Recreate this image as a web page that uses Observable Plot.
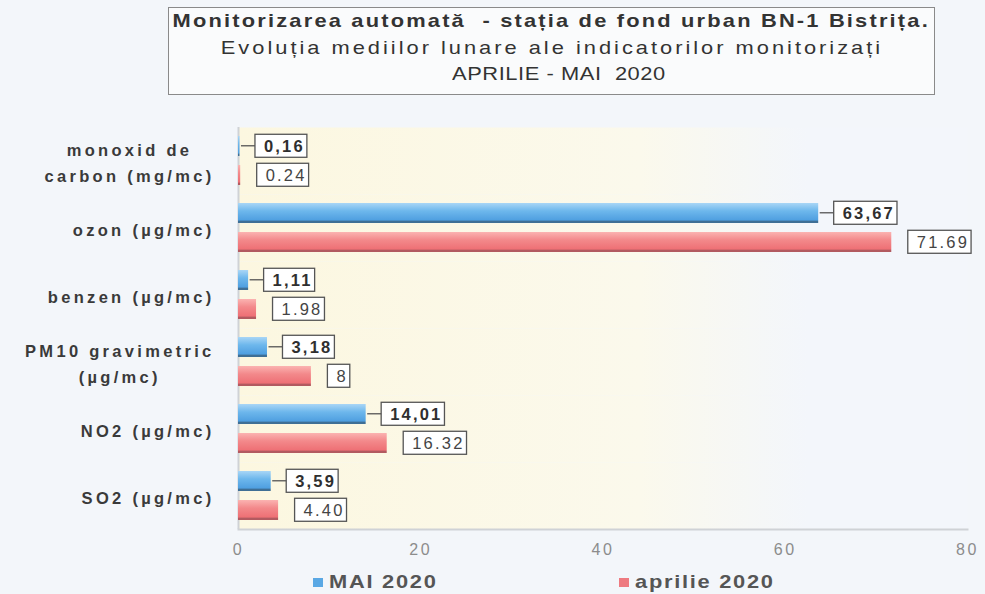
<!DOCTYPE html>
<html>
<head>
<meta charset="utf-8">
<script src="https://cdn.jsdelivr.net/npm/d3@7"></script>
<script src="https://cdn.jsdelivr.net/npm/@observablehq/plot@0.6"></script>
<style>
  body { margin: 0; background: #f3f6fa; font-family: "Liberation Sans", Arial, sans-serif; }
  #wrap { position: relative; width: 985px; height: 594px; overflow: hidden; background: #f3f6fa; }
  #chart { position: absolute; left: 0; top: 0; }
  #title { position: absolute; left: 168px; top: 7px; width: 767px; height: 88px; box-sizing: border-box;
           border: 1px solid #8a8a8a; background: #fafbfc; text-align: center; color: #333;
           font-size: 19px; line-height: 26.5px; padding-top: 0px; }
  #title .ln { display: block; white-space: nowrap; }
  #title .ln span { display: inline-block; transform: scaleX(1.15); transform-origin: center; }
  #title .l1 { font-weight: bold; letter-spacing: 1.9px; }
  #title .l2 { letter-spacing: 2.6px; }
  #title .l3 { letter-spacing: 0.5px; padding-left: 14px; }
  #legend { position: absolute; left: 0; top: 570px; width: 985px; height: 24px; font-weight: bold;
            font-size: 19px; color: #555; letter-spacing: 1.5px; }
  #legend .item { position: absolute; top: 0; line-height: 24px; white-space: nowrap; }
  #legend .sw { display: inline-block; width: 10px; height: 9px; margin-right: 6px; vertical-align: 1px; }
  #legend .tx { display: inline-block; transform: scaleX(1.15); transform-origin: left center; }
</style>
</head>
<body>
<div id="wrap">
  <div id="chart"></div>
  <div id="title">
    <div class="ln l1"><span>Monitorizarea automată&nbsp; - stația de fond urban BN-1 Bistrița.</span></div>
    <div class="ln l2"><span>Evoluția mediilor lunare ale indicatorilor monitorizați</span></div>
    <div class="ln l3"><span>APRILIE - MAI&nbsp; 2020</span></div>
  </div>
  <div id="legend"></div>
</div>
<script>
const categories = ["monoxid de\ncarbon (mg/mc)", "ozon (µg/mc)", "benzen (µg/mc)", "PM10 gravimetric\n(µg/mc)", "NO2 (µg/mc)", "SO2 (µg/mc)"];
const series = ["MAI 2020", "aprilie 2020"];
const maiValues = [0.16, 63.67, 1.11, 3.18, 14.01, 3.59];
const aprilieValues = [0.24, 71.69, 1.98, 8, 16.32, 4.40];
const maiLabels = ["0,16", "63,67", "1,11", "3,18", "14,01", "3,59"];
const aprilieLabels = ["0.24", "71.69", "1.98", "8", "16.32", "4.40"];
const xTicks = [0, 20, 40, 60, 80];

const mai = categories.map((c, i) => ({cat: c, series: series[0], value: maiValues[i], label: maiLabels[i]}));
const apr = categories.map((c, i) => ({cat: c, series: series[1], value: aprilieValues[i], label: aprilieLabels[i]}));

const defs = () => {
  const d = d3.create("svg:defs");
  const bg = d.append("linearGradient").attr("id", "gBg").attr("x1", 0).attr("x2", 1).attr("y1", 0).attr("y2", 0);
  bg.append("stop").attr("offset", "0%").attr("stop-color", "#fcf7e0");
  bg.append("stop").attr("offset", "55%").attr("stop-color", "#fbf9ec");
  bg.append("stop").attr("offset", "78%").attr("stop-color", "#f3f6fb");
  bg.append("stop").attr("offset", "100%").attr("stop-color", "#f3f6fb");
  const b = d.append("linearGradient").attr("id", "gBlue").attr("x1", 0).attr("x2", 0).attr("y1", 0).attr("y2", 1);
  b.append("stop").attr("offset", "0%").attr("stop-color", "#a9d6f6");
  b.append("stop").attr("offset", "40%").attr("stop-color", "#6db7ec");
  b.append("stop").attr("offset", "86%").attr("stop-color", "#4f9fe0");
  b.append("stop").attr("offset", "90%").attr("stop-color", "#3f6f95");
  b.append("stop").attr("offset", "100%").attr("stop-color", "#3f6f95");
  const r = d.append("linearGradient").attr("id", "gRed").attr("x1", 0).attr("x2", 0).attr("y1", 0).attr("y2", 1);
  r.append("stop").attr("offset", "0%").attr("stop-color", "#fbb3b1");
  r.append("stop").attr("offset", "40%").attr("stop-color", "#f3898b");
  r.append("stop").attr("offset", "86%").attr("stop-color", "#ee7075");
  r.append("stop").attr("offset", "90%").attr("stop-color", "#b25a60");
  r.append("stop").attr("offset", "100%").attr("stop-color", "#b25a60");
  return d.node();
};

const svg = Plot.plot({
  width: 985,
  height: 570,
  marginLeft: 238,
  marginRight: 18,
  marginTop: 125,
  marginBottom: 40,
  style: {background: "transparent", fontFamily: "'Liberation Sans', Arial, sans-serif"},
  x: {domain: [0, 80]},
  y: {domain: series, paddingInner: 0.3, paddingOuter: 0.3, axis: null},
  fy: {domain: categories, padding: 0, label: null},
  marks: [
    defs,
    Plot.frame({fill: "url(#gBg)", stroke: "none"}),
    Plot.ruleX([0], {stroke: "#cfd2d6", strokeWidth: 2}),
    Plot.frame({anchor: "bottom", facetAnchor: "bottom", stroke: "#cfd2d6", strokeWidth: 2}),
    Plot.barX(mai, {fy: "cat", y: "series", x: "value", fill: "url(#gBlue)"}),
    Plot.barX(apr, {fy: "cat", y: "series", x: "value", fill: "url(#gRed)"}),
    Plot.text(mai, {fy: "cat", y: "series", x: "value", text: "label", textAnchor: "start", dx: 24,
                    fontSize: 16.5, fontWeight: "bold", fill: "#2f2f2f"}),
    Plot.text(apr, {fy: "cat", y: "series", x: "value", text: "label", textAnchor: "start", dx: 25,
                    fontSize: 16.5, fill: "#444"}),
    Plot.axisFy({anchor: "left", tickSize: 0, tickPadding: 24, fontSize: 16.5, fontWeight: "bold",
                 fill: "#3a3a3a", label: null, textAnchor: "end", lineHeight: 1.55}),
    Plot.axisX({ticks: xTicks, tickSize: 0, tickPadding: 14, fontSize: 16, fill: "#8c8c8c", label: null})
  ]
});
document.getElementById("chart").appendChild(svg);

// letter spacing like the original
d3.select(svg).selectAll('g[aria-label^="fy-axis"] text').style("letter-spacing", "3.3px");
d3.select(svg).selectAll('g[aria-label^="x-axis"] text').style("letter-spacing", "2.5px");
const textGroups = Array.from(svg.querySelectorAll('g[aria-label="text"]'));
textGroups.forEach(g => d3.select(g).selectAll("text").style("letter-spacing", "2.2px"));

// multi-line category labels are centred on their block, right edge kept
d3.select(svg).selectAll('g[aria-label^="fy-axis"] text').each(function() {
  const tspans = this.querySelectorAll("tspan");
  if (tspans.length < 2) return;
  const w = this.getBBox().width;
  this.setAttribute("text-anchor", "middle");
  const tr = this.getAttribute("transform") || "";
  this.setAttribute("transform", tr + ` translate(${-w / 2},0)`);
});

// boxes around data labels (+ leader lines for MAI)
function boxLabels(group, leader) {
  if (!group) return;
  const ns = "http://www.w3.org/2000/svg";
  const overlay = document.createElementNS(ns, "g");
  svg.appendChild(overlay);
  const sr = svg.getBoundingClientRect();
  group.querySelectorAll("text").forEach(t => {
    const r = t.getBoundingClientRect();
    const x = r.left - sr.left - 9, y = r.top - sr.top - 2.5, w = r.width + 11, h = r.height + 5;
    const rect = document.createElementNS(ns, "rect");
    rect.setAttribute("x", x); rect.setAttribute("y", y);
    rect.setAttribute("width", w); rect.setAttribute("height", h);
    rect.setAttribute("fill", "#ffffff"); rect.setAttribute("stroke", "#555");
    rect.setAttribute("stroke-width", 1.3);
    overlay.appendChild(rect);
    if (leader) {
      const line = document.createElementNS(ns, "line");
      line.setAttribute("x1", x - 14); line.setAttribute("x2", x);
      line.setAttribute("y1", y + h / 2); line.setAttribute("y2", y + h / 2);
      line.setAttribute("stroke", "#555"); line.setAttribute("stroke-width", 1.3);
      overlay.appendChild(line);
    }
  });
  svg.appendChild(group);
}
boxLabels(textGroups[0], true);
boxLabels(textGroups[1], false);

// legend
const legend = d3.select("#legend");
const legendItems = [{name: series[0], color: "#5aa8e4", left: 313}, {name: series[1], color: "#ee7a80", left: 619}];
legendItems.forEach(d => {
  const it = legend.append("div").attr("class", "item").style("left", d.left + "px");
  it.append("span").attr("class", "sw").style("background", d.color);
  it.append("span").attr("class", "tx").text(d.name);
});
</script>
</body>
</html>
